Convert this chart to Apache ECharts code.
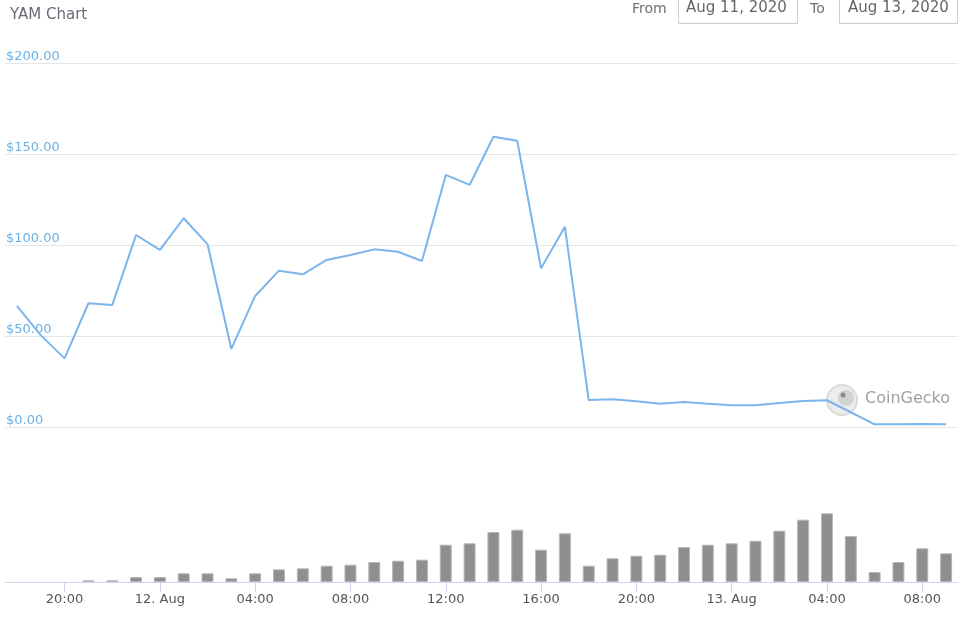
<!DOCTYPE html>
<html>
<head>
<meta charset="utf-8">
<script src="https://cdn.jsdelivr.net/npm/echarts@6/dist/echarts.min.js"></script>
<style>
html,body{margin:0;padding:0;background:#fff;}
#chart{width:958px;height:623px;}
</style>
</head>
<body>
<div id="chart"></div>
<script>
// Hourly points starting Aug 11, 2020 18:00 (hour 18) to Aug 13, 2020 09:00 (hour 57)
const startHour = 18;
const prices = [66.5, 50.5, 37.7, 68, 67, 105.5, 97.3, 114.7, 100.5, 42.9,
  72, 85.9, 83.9, 91.8, 94.5, 97.6, 96.3, 91.2, 138.5, 133,
  159.5, 157.3, 87.2, 110, 14.8, 15.2, 14.1, 12.8, 13.7, 12.8,
  11.9, 11.9, 13.2, 14.3, 14.7, 8.1, 1.5, 1.5, 1.6, 1.5];
const volumes = [0, 0, 0, 1.7, 1.7, 5, 5, 8.7, 8.7, 3.7,
  8.7, 12.7, 13.7, 16.3, 17.3, 20, 21.3, 22.3, 37.3, 38.7,
  50, 52.3, 32.3, 48.7, 16.3, 23.7, 26.3, 27.3, 35, 37.3,
  38.7, 41.3, 51.3, 62.3, 68.7, 46, 10, 20, 33.7, 28.7];
const tickHours = [20, 24, 28, 32, 36, 40, 44, 48, 52, 56];
const tickLabels = ['20:00', '12. Aug', '04:00', '08:00', '12:00', '16:00', '20:00', '13. Aug', '04:00', '08:00'];

const priceData = prices.map((v, i) => [startHour + i, v]);
const volumeData = volumes.map((v, i) => [startHour + i, v > 0 ? v : null]);

const chart = echarts.init(document.getElementById('chart'));
const font = 'DejaVu Sans';
chart.setOption({
  animation: false,
  textStyle: { fontFamily: font },
  title: {
    text: 'YAM Chart', left: 5, top: 3,
    textStyle: { fontSize: 15, fontWeight: 'normal', color: '#666b75', fontFamily: font }
  },
  grid: [
    { left: 5, right: 0, top: 63, height: 364 },
    { left: 5, right: 0, top: 482, height: 100 }
  ],
  xAxis: [
    { type: 'value', gridIndex: 0, min: 17.5, max: 57.5, show: false, splitLine: { show: false } },
    {
      type: 'value', gridIndex: 1, min: 17.5, max: 57.5,
      splitLine: { show: false },
      axisLine: { show: true, lineStyle: { color: '#ccd6eb', width: 1 } },
      axisTick: { show: true, length: 10, lineStyle: { color: '#ccd6eb' }, customValues: tickHours },
      axisLabel: {
        customValues: tickHours, margin: 11, fontSize: 13, color: '#555', fontFamily: font,
        formatter: v => tickLabels[tickHours.indexOf(Math.round(v))] || ''
      }
    }
  ],
  yAxis: [
    {
      type: 'value', gridIndex: 0, min: 0, max: 200, interval: 50,
      axisLine: { show: false }, axisTick: { show: false },
      splitLine: { lineStyle: { color: '#e6e6e6', width: 1 } },
      axisLabel: {
        inside: true, margin: 1, verticalAlign: 'bottom', fontSize: 13,
        color: '#6bb1e6', fontFamily: font,
        formatter: v => '$' + v.toFixed(2)
      }
    },
    { type: 'value', gridIndex: 1, min: 0, max: 100, show: false, splitLine: { show: false } }
  ],
  series: [
    {
      type: 'line', xAxisIndex: 0, yAxisIndex: 0, data: priceData,
      symbol: 'none', lineStyle: { color: '#7cb5ec', width: 2 }, z: 5
    },
    {
      type: 'bar', xAxisIndex: 1, yAxisIndex: 1, data: volumeData, barWidth: 12, clip: false,
      itemStyle: { color: '#8f8f8f', borderColor: '#b8b8b8', borderWidth: 1 }
    }
  ],
  graphic: [
    { type: 'text', left: 632, top: 2, z: 10, style: { text: 'From', fontSize: 14, fill: '#707070', fontFamily: font } },
    { type: 'rect', left: 678, top: -6, z: 10, shape: { width: 119, height: 29 }, style: { fill: '#fff', stroke: '#cccccc', lineWidth: 1 } },
    { type: 'text', left: 686, top: 1, z: 11, style: { text: 'Aug 11, 2020', fontSize: 15, fill: '#666', fontFamily: font } },
    { type: 'text', left: 810, top: 2, z: 10, style: { text: 'To', fontSize: 14, fill: '#707070', fontFamily: font } },
    { type: 'rect', left: 839, top: -6, z: 10, shape: { width: 118, height: 29 }, style: { fill: '#fff', stroke: '#cccccc', lineWidth: 1 } },
    { type: 'text', left: 848, top: 1, z: 11, style: { text: 'Aug 13, 2020', fontSize: 15, fill: '#666', fontFamily: font } },
    { type: 'circle', z: 0, shape: { cx: 842, cy: 400, r: 15 }, style: { fill: '#ececec', stroke: '#dadada', lineWidth: 2 } },
    { type: 'circle', z: 0, shape: { cx: 846, cy: 398, r: 8 }, style: { fill: '#d2d2d2' } },
    { type: 'circle', z: 0, shape: { cx: 843, cy: 395, r: 2.5 }, style: { fill: '#8a8a8a' } },
    { type: 'text', z: 0, left: 865, top: 391, style: { text: 'CoinGecko', fontSize: 16, fill: '#a0a0a0', fontFamily: font } }
  ]
});
</script>
</body>
</html>
